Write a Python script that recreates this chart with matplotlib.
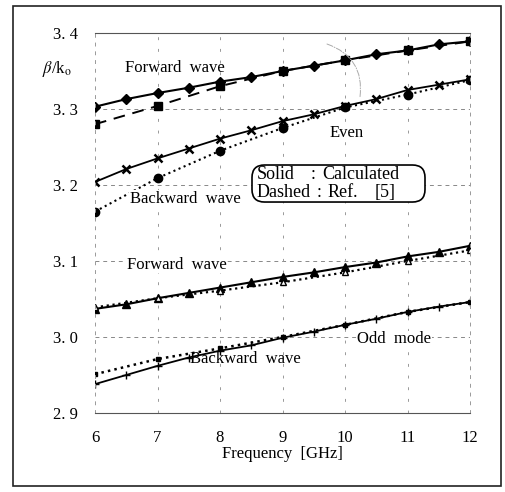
import numpy as np
import matplotlib.pyplot as plt
from matplotlib.patches import Rectangle, FancyBboxPatch

# frequencies
f_calc = [6, 6.5, 7, 7.5, 8, 8.5, 9, 9.5, 10, 10.5, 11, 11.5, 12]
f_ref = [6, 7, 8, 9, 10, 11, 12]

# even mode
even_fwd_calc = [3.303, 3.313, 3.321, 3.328, 3.336, 3.342, 3.350, 3.357, 3.364, 3.372, 3.377, 3.385, 3.389]
even_fwd_ref = [3.280, 3.304, 3.330, 3.350, 3.364, 3.377, 3.389]
even_bwd_calc = [3.204, 3.221, 3.235, 3.248, 3.261, 3.272, 3.284, 3.293, 3.304, 3.313, 3.325, 3.332, 3.339]
even_bwd_ref = [3.165, 3.209, 3.245, 3.275, 3.302, 3.319, 3.338]

# odd mode
odd_fwd_calc = [3.037, 3.043, 3.051, 3.058, 3.065, 3.072, 3.079, 3.085, 3.092, 3.098, 3.106, 3.112, 3.120]
odd_fwd_ref = [3.039, 3.051, 3.061, 3.072, 3.085, 3.100, 3.114]
odd_bwd_calc = [2.938, 2.950, 2.962, 2.973, 2.982, 2.989, 2.999, 3.007, 3.016, 3.024, 3.033, 3.040, 3.046]
odd_bwd_ref = [2.951, 2.971, 2.985, 3.000, 3.016, 3.033, 3.046]

x_ticks = [6, 7, 8, 9, 10, 11, 12]
y_ticks = [2.9, 3.0, 3.1, 3.2, 3.3, 3.4]
y_tick_labels = ['2. 9', '3. 0', '3. 1', '3. 2', '3. 3', '3. 4']

plt.rcParams['font.family'] = ['Liberation Serif', 'DejaVu Serif']
plt.rcParams['mathtext.fontset'] = 'stix'
FS = 12

fig = plt.figure(figsize=(5.06, 4.92), dpi=100)
ax = fig.add_axes([95 / 506, 79 / 492, 375 / 506, 380 / 492])

# outer frame round the whole figure
fig.patches.append(Rectangle((13 / 506, 6 / 492), 488 / 506, 480 / 492, transform=fig.transFigure,
                             fill=False, ec='#222222', lw=1.2))

# dashed grid
for yv in [3.0, 3.1, 3.2, 3.3]:
    ax.axhline(yv, color='#888888', ls=(0, (4, 4)), lw=0.7, zorder=0)
for xv in [7, 8, 9, 10, 11]:
    ax.axvline(xv, color='#999999', ls=(0, (3, 9)), lw=0.7, zorder=0)

# even mode curves
ax.plot(f_calc, even_fwd_calc, '-', color='black', lw=1.5, marker='D', ms=5)
ax.plot(f_ref, even_fwd_ref, '--', color='black', lw=1.4, dashes=(6, 4), marker='s', ms=6)
ax.plot(f_calc, even_bwd_calc, '-', color='black', lw=1.3, marker='x', ms=6, mew=1.8)
ax.plot(f_ref, even_bwd_ref, ':', color='black', lw=1.5, marker='o', ms=6)

# odd mode curves
ax.plot(f_calc, odd_fwd_calc, '-', color='black', lw=1.5, marker='^', ms=6)
ax.plot(f_ref, odd_fwd_ref, ':', color='black', lw=1.6, marker='^', ms=5, mfc='white')
ax.plot(f_calc, odd_bwd_calc, '-', color='black', lw=1.3, marker='+', ms=6)
ax.plot(f_ref, odd_bwd_ref, ':', color='black', lw=1.8, marker='s', ms=3)

# faint leader arc near the even-mode label
ax.annotate('', xy=(10.24, 3.3158), xytext=(9.712, 3.3855),
            arrowprops=dict(arrowstyle='-', connectionstyle='arc3,rad=-0.4',
                            color='#aaaaaa', lw=0.7, ls='-.', shrinkA=0, shrinkB=0))

# labels on the plot
ax.text(5.39, 3.352, r'$\beta$/k$_{\rm o}$', fontsize=FS, ha='center', va='center')
ax.text(7.28, 3.354, 'Forward  wave', fontsize=FS, ha='center', va='center')
ax.text(10.03, 3.268, 'Even', fontsize=FS, ha='center', va='center')
ax.text(7.44, 3.182, 'Backward  wave', fontsize=FS, ha='center', va='center',
        bbox=dict(fc='white', ec='none', pad=0.5))
ax.text(7.31, 3.095, 'Forward  wave', fontsize=FS, ha='center', va='center',
        bbox=dict(fc='white', ec='none', pad=0.5))
ax.text(10.79, 2.997, 'Odd  mode', fontsize=FS, ha='center', va='center',
        bbox=dict(fc='white', ec='none', pad=0.5))
ax.text(8.41, 2.971, 'Backward  wave', fontsize=FS, ha='center', va='center')

# note box: solid = calculated, dashed = reference
aspect = (62.5 / 760)
note = FancyBboxPatch((8.512, 3.1776), 11.28 - 8.512, 3.2263 - 3.1776,
                      boxstyle='round,pad=0,rounding_size=0.2', mutation_aspect=aspect,
                      fc='white', ec='black', lw=1.2, zorder=3)
ax.add_patch(note)
row1_y, row2_y = 3.2132, 3.1895
box_fs = 13
for xpos, txt, ha, yy in [(8.592, 'Solid', 'left', row1_y), (9.49, ':', 'center', row1_y),
                          (9.64, 'Calculated', 'left', row1_y),
                          (8.592, 'Dashed', 'left', row2_y), (9.58, ':', 'center', row2_y),
                          (9.72, 'Ref.', 'left', row2_y), (10.48, '[5]', 'left', row2_y)]:
    ax.text(xpos, yy, txt, fontsize=box_fs, ha=ha, va='center', zorder=4)

ax.set_xlim(6, 12)
ax.set_ylim(2.9, 3.4)
ax.set_xticks(x_ticks)
ax.set_xticklabels([str(v) for v in x_ticks], fontsize=FS)
ax.set_yticks(y_ticks)
ax.set_yticklabels(y_tick_labels, fontsize=FS)
ax.tick_params(length=0, pad=12)
ax.set_xlabel('Frequency  [GHz]', fontsize=FS, labelpad=0)

for side in ['top', 'bottom']:
    ax.spines[side].set_color('#555555')
    ax.spines[side].set_linewidth(0.8)
for side in ['left', 'right']:
    ax.spines[side].set_color('#999999')
    ax.spines[side].set_linestyle((0, (3, 6)))
    ax.spines[side].set_linewidth(0.7)

fig.savefig('out.png', dpi=100)
